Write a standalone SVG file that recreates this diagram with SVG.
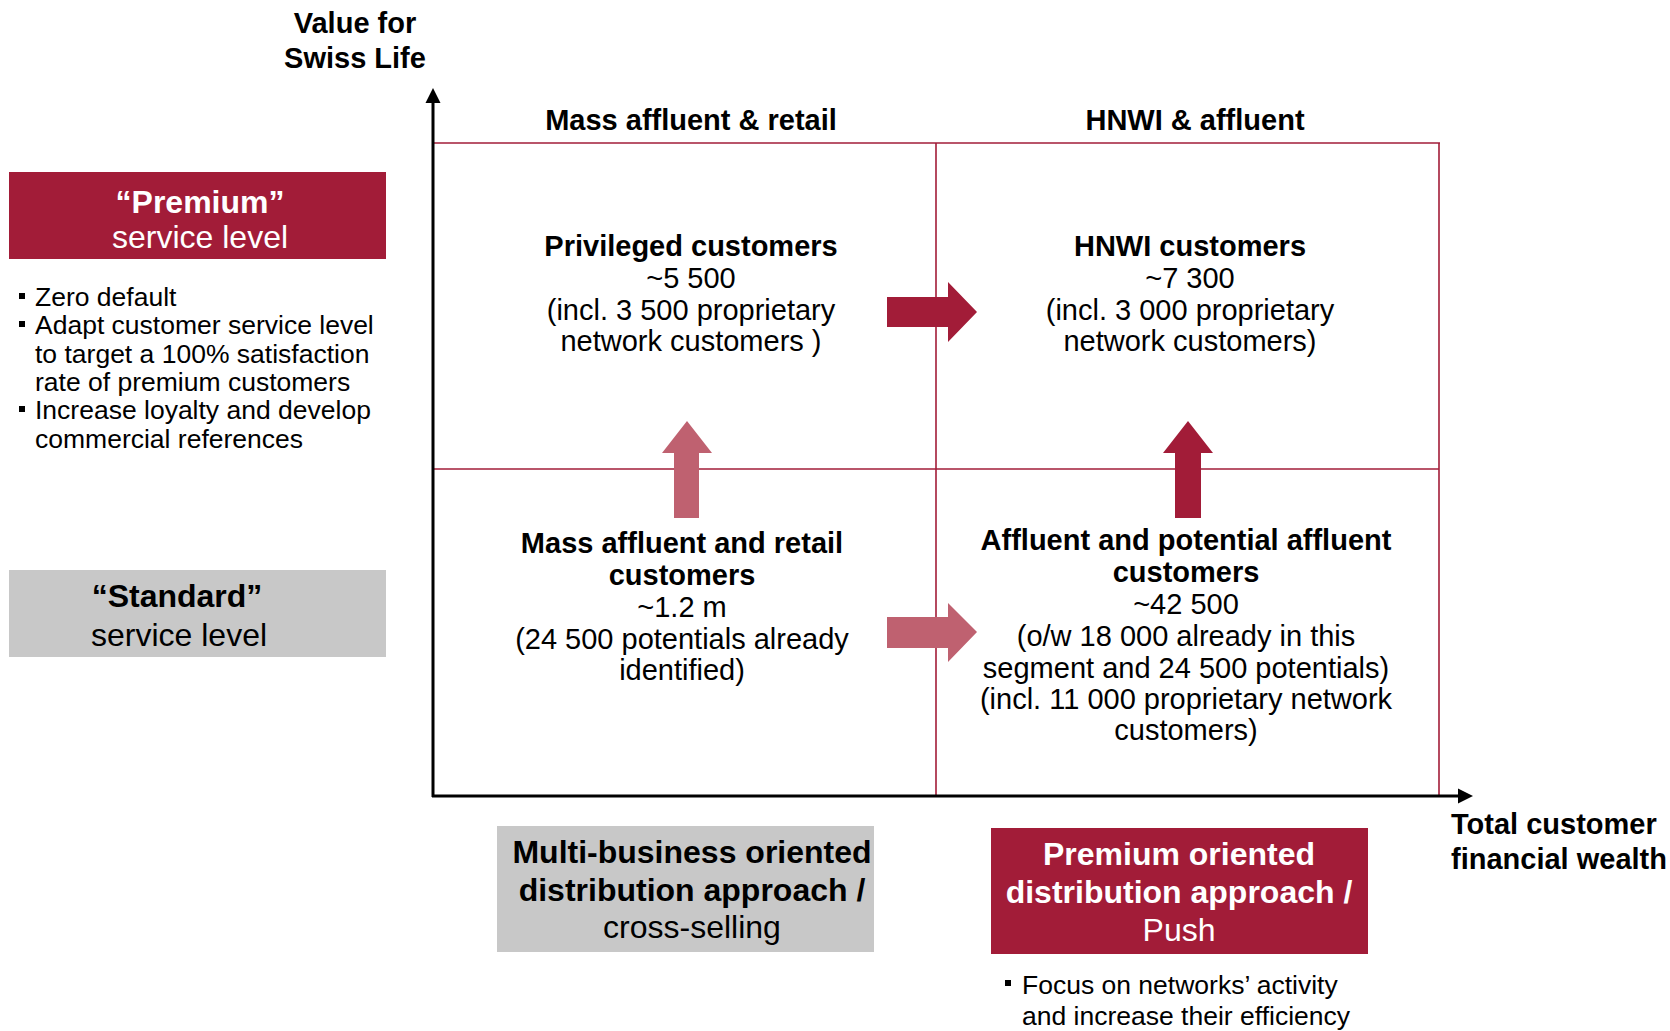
<svg xmlns="http://www.w3.org/2000/svg" width="1670" height="1031" viewBox="0 0 1670 1031">
<style>
text{font-family:"Liberation Sans",Arial,sans-serif;fill:#000}
.b{font-weight:bold}
.ax{font-size:29px;font-weight:bold}
.q{font-size:29px;text-anchor:middle}
.lvl{font-size:32px;text-anchor:middle}
.bul{font-size:26.5px}
.w{fill:#fff}
.red{fill:#A21C38}
.pink{fill:#BF6170}
.gray{fill:#C8C8C8}
.grid{stroke:#A21C38;stroke-width:1.6;fill:none}
.axis{stroke:#000;stroke-width:3;fill:none}
</style>
<rect width="1670" height="1031" fill="#fff"/>
<g id="grid">
<line class="grid" x1="432" y1="143" x2="1440" y2="143"/>
<line class="grid" x1="1439" y1="143" x2="1439" y2="795"/>
<line class="grid" x1="936" y1="143" x2="936" y2="795"/>
<line class="grid" x1="432" y1="469" x2="1439" y2="469" stroke-width="2.2"/>
</g>
<g id="axes">
<line class="axis" x1="433" y1="797" x2="433" y2="100"/>
<polygon points="433,88 425.5,103 440.5,103" fill="#000"/>
<line class="axis" x1="432" y1="796" x2="1460" y2="796"/>
<polygon points="1473,796 1458,788.5 1458,803.5" fill="#000"/>
<text class="ax" x="355" y="33" text-anchor="middle">Value for</text>
<text class="ax" x="355" y="68" text-anchor="middle">Swiss Life</text>
<text class="ax" x="1451" y="834">Total customer</text>
<text class="ax" x="1451" y="869">financial wealth</text>
<text class="ax" x="691" y="130" text-anchor="middle">Mass affluent &amp; retail</text>
<text class="ax" x="1195" y="130" text-anchor="middle">HNWI &amp; affluent</text>
</g>
<g id="premium-level">
<rect class="red" x="9" y="172" width="377" height="87"/>
<text class="lvl w b" x="200" y="213">“Premium”</text>
<text class="lvl w" x="200" y="248">service level</text>
</g>
<g id="premium-bullets">
<rect x="19" y="293" width="6" height="6"/>
<rect x="19" y="321" width="6" height="6"/>
<rect x="19" y="406" width="6" height="6"/>
<text class="bul" x="35" y="306">Zero default</text>
<text class="bul" x="35" y="334">Adapt customer service level</text>
<text class="bul" x="35" y="363">to target a 100% satisfaction</text>
<text class="bul" x="35" y="391">rate of premium customers</text>
<text class="bul" x="35" y="419">Increase loyalty and develop</text>
<text class="bul" x="35" y="448">commercial references</text>
</g>
<g id="standard-level">
<rect class="gray" x="9" y="570" width="377" height="87"/>
<text class="lvl b" x="177" y="607">“Standard”</text>
<text class="lvl" x="179" y="646">service level</text>
</g>
<g id="privileged">
<text class="q b" x="691" y="256">Privileged customers</text>
<text class="q" x="691" y="288">~5 500</text>
<text class="q" x="691" y="320">(incl. 3 500 proprietary</text>
<text class="q" x="691" y="351">network customers )</text>
</g>
<g id="hnwi">
<text class="q b" x="1190" y="256">HNWI customers</text>
<text class="q" x="1190" y="288">~7 300</text>
<text class="q" x="1190" y="320">(incl. 3 000 proprietary</text>
<text class="q" x="1190" y="351">network customers)</text>
</g>
<g id="mass-affluent">
<text class="q b" x="682" y="553">Mass affluent and retail</text>
<text class="q b" x="682" y="585">customers</text>
<text class="q" x="682" y="617">~1.2 m</text>
<text class="q" x="682" y="649">(24 500 potentials already</text>
<text class="q" x="682" y="680">identified)</text>
</g>
<g id="affluent">
<text class="q b" x="1186" y="550">Affluent and potential affluent</text>
<text class="q b" x="1186" y="582">customers</text>
<text class="q" x="1186" y="614">~42 500</text>
<text class="q" x="1186" y="646">(o/w 18 000 already in this</text>
<text class="q" x="1186" y="678">segment and 24 500 potentials)</text>
<text class="q" x="1186" y="709">(incl. 11 000 proprietary network</text>
<text class="q" x="1186" y="740">customers)</text>
</g>
<g id="connectors">
<polygon class="red" points="887,297 948,297 948,282 977,312 948,342 948,327 887,327"/>
<polygon class="pink" points="887,617 948,617 948,603 977,632 948,662 948,648 887,648"/>
<polygon class="pink" points="674,518 674,453 662,453 687,421 712,453 699,453 699,518"/>
<polygon class="red" points="1175,518 1175,453 1163,453 1188,421 1213,453 1201,453 1201,518"/>
</g>
<g id="multi-business">
<rect class="gray" x="497" y="826" width="377" height="126"/>
<text class="lvl b" x="692" y="863">Multi-business oriented</text>
<text class="lvl b" x="692" y="901">distribution approach /</text>
<text class="lvl" x="692" y="938">cross-selling</text>
</g>
<g id="premium-approach">
<rect class="red" x="991" y="828" width="377" height="126"/>
<text class="lvl w b" x="1179" y="865">Premium oriented</text>
<text class="lvl w b" x="1179" y="903">distribution approach /</text>
<text class="lvl w" x="1179" y="941">Push</text>
<rect x="1005" y="980" width="6" height="6"/>
<text class="bul" x="1022" y="994">Focus on networks’ activity</text>
<text class="bul" x="1022" y="1025">and increase their efficiency</text>
</g>
</svg>
